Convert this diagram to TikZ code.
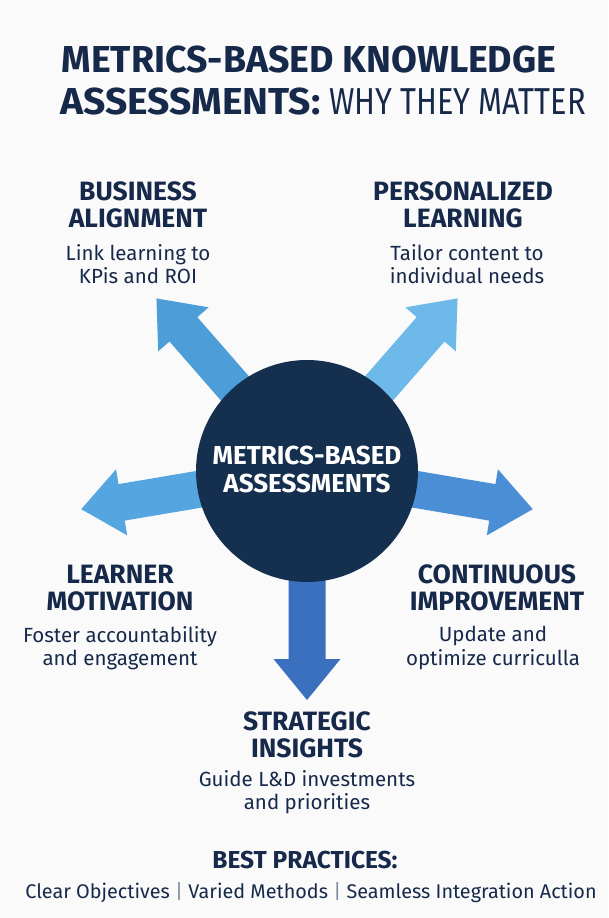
\documentclass[tikz,border=0pt]{standalone}
\usepackage{fontspec}
\setmainfont{Fira Sans}
\newfontfamily\titlereg[FakeStretch=0.82]{Fira Sans}
\newfontfamily\titlewide[FakeStretch=1.04]{Fira Sans}
\definecolor{bgc}{HTML}{FAFAFA}
\definecolor{navy}{HTML}{17294A}
\definecolor{circ}{HTML}{15304F}
\definecolor{aul}{HTML}{4D9DD8}
\definecolor{aur}{HTML}{6DB9EA}
\definecolor{al}{HTML}{55A5E0}
\definecolor{ar}{HTML}{4A8FD5}
\definecolor{ad}{HTML}{3A70BD}
\tikzset{
  blockarrow/.pic={\fill (0,-18.5) -- (188,-18.5) -- (188,-33.5) -- (229,0) -- (188,33.5) -- (188,18.5) -- (0,18.5) -- cycle;},
  titletext/.style={text=navy, font=\fontsize{37.5}{40}\selectfont\bfseries, inner sep=0},
  headtext/.style={text=navy, font=\fontsize{26.5}{27.5}\selectfont\bfseries, align=center, inner sep=0},
  bodytext/.style={text=navy, font=\fontsize{20.5}{23.5}\selectfont, align=center, inner sep=0, anchor=north},
}
\begin{document}
\begin{tikzpicture}[x=1pt,y=-1pt]
\fill[bgc] (0,0) rectangle (608,918);
\useasboundingbox (0,0) rectangle (608,918);

% title
\node[titletext] (t1) at (309,60) {METRICS-BASED KNOWLEDGE};
\node[titletext] (t2) at (323,102) {{\titlewide\bfseries ASSESSMENTS:} {\titlereg\mdseries WHY THEY MATTER}};

% arrows
\coordinate (cc) at (307,471);
\pic[fill=aul, rotate=131.1] at (cc) {blockarrow};
\pic[fill=aur, rotate=48.9] at (cc) {blockarrow};
\pic[fill=al, rotate=189.6] at (cc) {blockarrow};
\pic[fill=ar, rotate=-9.6] at (cc) {blockarrow};
\pic[fill=ad, rotate=-90] at (cc) {blockarrow};

% centre
\node[circle, fill=circ, minimum size=222pt, inner sep=0] (c) at (cc) {};
\node[text=white, font=\fontsize{26}{28}\selectfont\bfseries, align=center, inner sep=0] (ct) at (307,469) {METRICS-BASED\\ASSESSMENTS};

% labels
\node[headtext] (h1) at (138,205) {BUSINESS\\ALIGNMENT};
\node[bodytext] (b1) at (138,244) {Link learning to\\KPis and ROI};
\node[headtext] (h2) at (463,205) {PERSONALIZED\\LEARNING};
\node[bodytext] (b2) at (467,244) {Tailor content to\\individual needs};
\node[headtext] (h3) at (120,588) {LEARNER\\MOTIVATION};
\node[bodytext] (b3) at (120,626) {Foster accountability\\and engagement};
\node[headtext] (h4) at (497,588) {CONTINUOUS\\IMPROVEMENT};
\node[bodytext] (b4) at (493,626) {Update and\\optimize curriculla};
\node[headtext] (h5) at (307,735) {STRATEGIC\\INSIGHTS};
\node[bodytext] (b5) at (307,770) {Guide L\&D investments\\and priorities};

% best practices
\node[text=navy, font=\fontsize{24.5}{27}\selectfont\bfseries, inner sep=0] (bp) at (305,860) {BEST PRACTICES:};
\node[text=navy, font=\fontsize{19.8}{23}\selectfont, inner sep=0, anchor=base] (bl) at (311,898) {Clear Objectives {\color{navy!55}|} Varied Methods {\color{navy!55}|} Seamless Integration Action};
\end{tikzpicture}
\end{document}
